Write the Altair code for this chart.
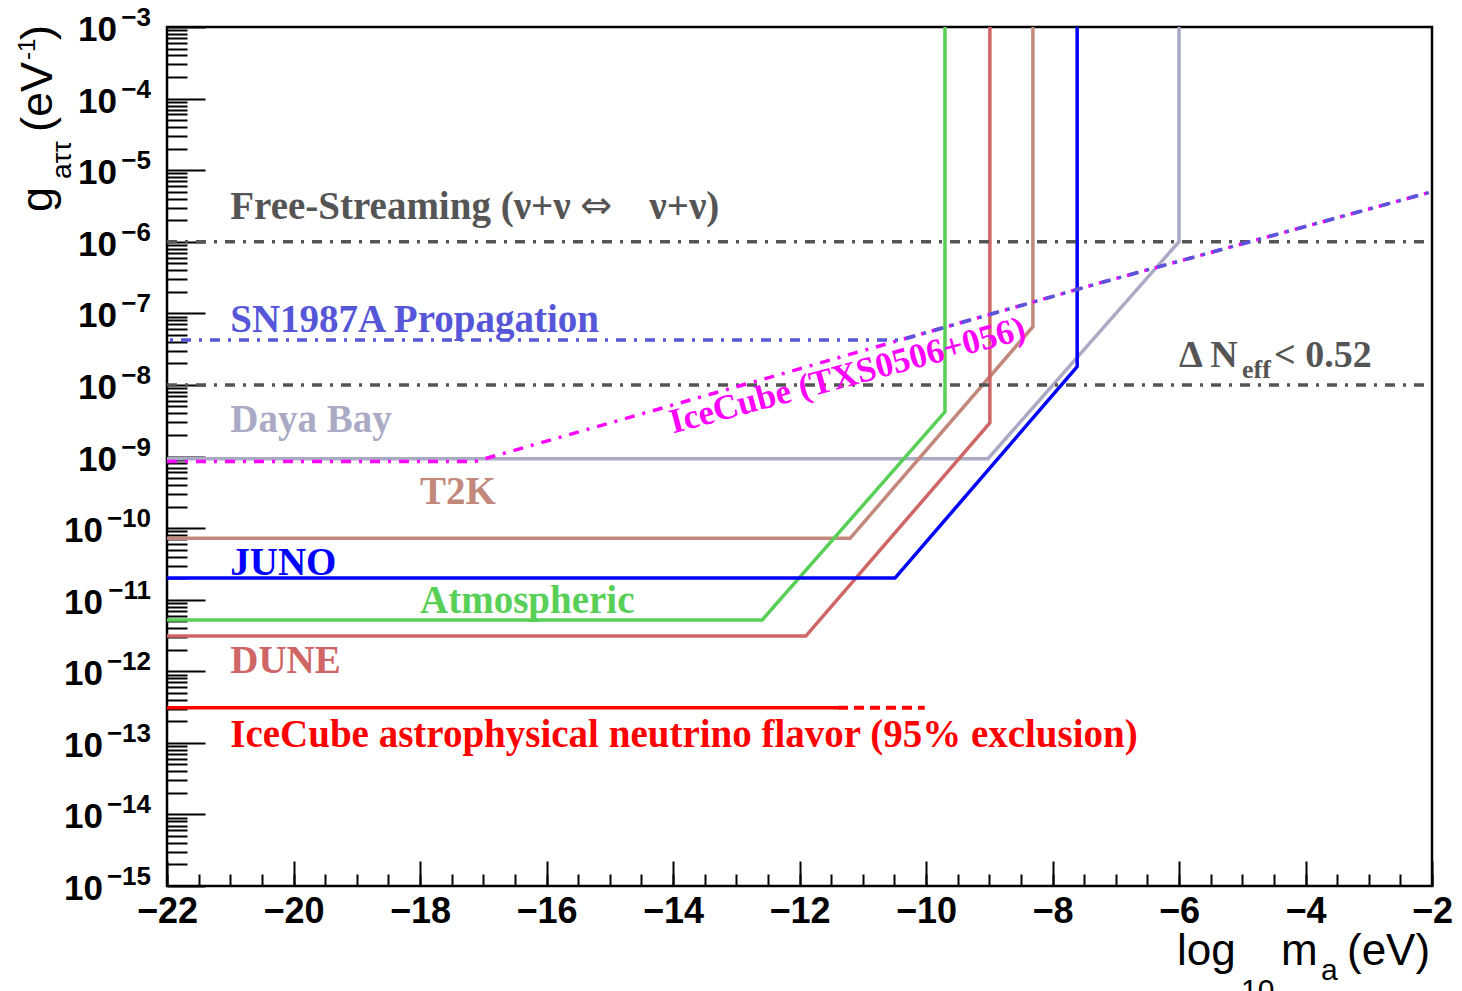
import altair as alt
import pandas as pd

# ---------------- data ----------------
# x = log10(m_a / eV), g = g_a tau tau in eV^-1
dune_x = [-22.0, -11.90, -8.99, -8.99]
dune_g = [3.1e-12, 3.1e-12, 2.95e-9, 1e-3]
atm_x = [-22.0, -12.59, -9.70, -9.70]
atm_g = [5.2e-12, 5.2e-12, 4.2e-9, 1e-3]
t2k_x = [-22.0, -11.20, -8.31, -8.31]
t2k_g = [7.2e-11, 7.2e-11, 6.5e-8, 1e-3]
juno_x = [-22.0, -10.49, -7.61, -7.61]
juno_g = [2.0e-11, 2.0e-11, 1.8e-8, 1e-3]
daya_x = [-22.0, -9.02, -6.0, -6.0]
daya_g = [9.3e-10, 9.3e-10, 1.0e-6, 1e-3]
flavor_x = [-22.0, -11.39]
flavor_g = [3.1e-13, 3.1e-13]
flavor_ext_x = [-11.39, -10.02]
flavor_ext_g = [3.1e-13, 3.1e-13]
txs_x = [-22.0, -17.13, -7.25, -2.0]
txs_g = [8.5e-10, 8.5e-10, 2.66e-7, 5.0e-6]
sn_x = [-22.0, -10.40, -7.25, -2.0]
sn_g = [4.25e-8, 4.25e-8, 2.66e-7, 5.0e-6]
free_x = [-22.0, -2.0]
free_g = [1e-6, 1e-6]
neff_x = [-22.0, -2.0]
neff_g = [1e-8, 1e-8]

label_text = ["SN1987A Propagation", "Daya Bay", "T2K", "JUNO", "Atmospheric", "DUNE",
              "IceCube astrophysical neutrino flavor (95% exclusion)"]
label_series = ["SN1987A", "Daya Bay", "T2K", "JUNO", "Atmospheric", "DUNE", "IceCube flavor"]
label_x = [-21.0, -21.0, -18.0, -21.0, -18.0, -21.0, -21.0]
label_g = [5.5e-8, 2.2e-9, 2.2e-10, 2.2e-11, 6.6e-12, 9.5e-13, 8.7e-14]

free_label_x = -21.0
free_label_g = 2.1e-6
txs_label_x = -14.0
txs_label_g = 2.1e-9
neff_label_x = -6.0
neff_label_g = 1.78e-8

x_major = [-22, -20, -18, -16, -14, -12, -10, -8, -6, -4, -2]
x_minor = [-22 + 0.5 * k for k in range(41)]
y_exps = list(range(-3, -16, -1))
y_major = [10.0 ** e for e in y_exps]
y_minor = [m * 10.0 ** e for e in range(-15, -3) for m in range(2, 10)]

# ---------------- styling ----------------
SERIES = ["Free-Streaming", "Neff", "SN1987A", "TXS", "Daya Bay", "T2K", "JUNO", "Atmospheric", "DUNE", "IceCube flavor"]
COLORS = ["#555555", "#555555", "#5656d8", "#ff00ff", "#abaac5", "#c1887b", "#0000ff", "#58d058", "#cf6565", "#ff0000"]
WIDTHS = [3.5, 3.5, 3.5, 3.5, 3, 3, 4, 3, 3, 4]
SERIF = "Liberation Serif"
SANS = "Liberation Sans"
W, H = 1265, 859
DASHDOT = [10, 8, 3, 8]

xs = alt.Scale(domain=[-22, -2], nice=False, zero=False)
ys = alt.Scale(type="log", domain=[1e-15, 1e-3], nice=False)
cs = alt.Scale(domain=SERIES, range=COLORS)
ws = alt.Scale(domain=SERIES, range=WIDTHS)


def long_df(pairs):
    rows = []
    for name, xv, gv in pairs:
        for i, (a, b) in enumerate(zip(xv, gv)):
            rows.append({"series": name, "x": a, "g": b, "i": i})
    return pd.DataFrame(rows)


solid_df = long_df([("Daya Bay", daya_x, daya_g), ("T2K", t2k_x, t2k_g), ("Atmospheric", atm_x, atm_g),
                    ("DUNE", dune_x, dune_g), ("JUNO", juno_x, juno_g), ("IceCube flavor", flavor_x, flavor_g)])
dd_df = long_df([("Free-Streaming", free_x, free_g), ("Neff", neff_x, neff_g), ("TXS", txs_x, txs_g)])
sn_df = long_df([("SN1987A", sn_x, sn_g)])
ext_df = long_df([("IceCube flavor", flavor_ext_x, flavor_ext_g)])
lab_df = pd.DataFrame({"text": label_text, "series": label_series, "x": label_x, "g": label_g})
ytick_df = pd.DataFrame({"v": y_major, "sup": ["\u2212" + str(-e) for e in y_exps],
                         "nd": [len(str(-e)) for e in y_exps]})
one = pd.DataFrame({"k": [0]})

tick_common = dict(labels=False, domain=False, grid=False, title=None, tickColor="black", tickWidth=2)
ax_x_major = alt.Axis(orient="top", offset=-H, values=x_major, tickSize=25, **tick_common)
ax_x_minor = alt.Axis(orient="top", offset=-H, values=x_minor, tickSize=12, **tick_common)
ax_y_major = alt.Axis(orient="right", offset=-W, values=y_major, tickSize=38, **tick_common)
ax_y_minor = alt.Axis(orient="right", offset=-W, values=y_minor, tickSize=20, **tick_common)
ax_x_lab = alt.Axis(orient="bottom", values=x_major, ticks=False, tickSize=0, domain=False, grid=False,
                    title=None, labelFont=SANS, labelFontWeight="bold", labelFontSize=36, labelColor="black",
                    labelPadding=8, format="d", labelFlush=False, labelOverlap=False, labelBound=False)

layers = []

# solid constraint lines (carry the major tick axes)
layers.append(alt.Chart(solid_df).mark_line(clip=True, strokeJoin="miter").encode(
    x=alt.X("x:Q", scale=xs, axis=ax_x_major),
    y=alt.Y("g:Q", scale=ys, axis=ax_y_major),
    color=alt.Color("series:N", scale=cs, legend=None),
    strokeWidth=alt.StrokeWidth("series:N", scale=ws, legend=None),
    detail="series:N",
    order="i:Q"))

# dash-dot lines (carry the minor tick axes)
layers.append(alt.Chart(dd_df).mark_line(clip=True, strokeDash=DASHDOT, strokeWidth=3.5).encode(
    x=alt.X("x:Q", scale=xs, axis=ax_x_minor),
    y=alt.Y("g:Q", scale=ys, axis=ax_y_minor),
    color=alt.Color("series:N", scale=cs, legend=None),
    detail="series:N",
    order="i:Q"))

layers.append(alt.Chart(sn_df).mark_line(clip=True, strokeDash=DASHDOT, strokeDashOffset=15, strokeWidth=3.5).encode(
    x=alt.X("x:Q", scale=xs, axis=None),
    y=alt.Y("g:Q", scale=ys, axis=None),
    color=alt.Color("series:N", scale=cs, legend=None),
    order="i:Q"))

# dashed extension of IceCube flavor (carries the x labels axis)
layers.append(alt.Chart(ext_df).mark_line(clip=True, strokeDash=[10, 6], strokeWidth=4).encode(
    x=alt.X("x:Q", scale=xs, axis=ax_x_lab),
    y=alt.Y("g:Q", scale=ys, axis=None),
    color=alt.Color("series:N", scale=cs, legend=None),
    order="i:Q"))

# in-plot labels
layers.append(alt.Chart(lab_df).mark_text(align="left", baseline="alphabetic", font=SERIF, fontWeight="bold",
                                          fontSize=39).encode(
    x=alt.X("x:Q", scale=xs, axis=None),
    y=alt.Y("g:Q", scale=ys, axis=None),
    text="text:N",
    color=alt.Color("series:N", scale=cs, legend=None)))


def datum_text(s, xv, gv, size, color, dx=0, dy=0, angle=0, font=SERIF, weight="bold"):
    return alt.Chart(one).mark_text(text=s, align="left", baseline="alphabetic", font=font, fontWeight=weight,
                                    fontSize=size, color=color, dx=dx, dy=dy, angle=angle).encode(
        x=alt.XDatum(xv, type="quantitative", scale=xs, axis=None),
        y=alt.YDatum(gv, type="quantitative", scale=ys, axis=None))


layers.append(datum_text("Free-Streaming (\u03bd+\u03bd", free_label_x, free_label_g, 39, "#555555"))
layers.append(datum_text("\u21d4", free_label_x, free_label_g, 38, "#555555", dx=350, dy=-1,
                         font="DejaVu Sans", weight="normal"))
layers.append(datum_text("\u03bd+\u03bd)", free_label_x, free_label_g, 39, "#555555", dx=419))
layers.append(datum_text("IceCube (TXS0506+056)", txs_label_x, txs_label_g, 35, "#ff00ff", angle=345))
layers.append(datum_text("\u0394  N", neff_label_x, neff_label_g, 38, "#555555"))
layers.append(datum_text("eff", neff_label_x, neff_label_g, 26, "#555555", dx=63, dy=11))
layers.append(datum_text("< 0.52", neff_label_x, neff_label_g, 38, "#555555", dx=95))

# y tick labels: 10 with superscript exponent
for nd, dxv in [(1, -50), (2, -64)]:
    layers.append(alt.Chart(ytick_df).transform_filter(f"datum.nd == {nd}").mark_text(
        text="10", align="right", baseline="alphabetic", font=SANS, fontWeight="bold", fontSize=35,
        color="black", dx=dxv, dy=14).encode(
        x=alt.XDatum(-22, type="quantitative", scale=xs, axis=None),
        y=alt.Y("v:Q", scale=ys, axis=None)))
layers.append(alt.Chart(ytick_df).mark_text(
    align="right", baseline="alphabetic", font=SANS, fontWeight="bold", fontSize=26,
    color="black", dx=-16, dy=-1).encode(
    x=alt.XDatum(-22, type="quantitative", scale=xs, axis=None),
    y=alt.Y("v:Q", scale=ys, axis=None),
    text="sup:N"))


def px_text(s, px, py, size, angle=0):
    return alt.Chart(one).mark_text(text=s, align="left", baseline="alphabetic", font=SANS, fontSize=size,
                                    color="black", angle=angle).encode(x=alt.value(px), y=alt.value(py))


# x title: log_10 m_a (eV)
layers += [px_text("log", 1010, 938, 44), px_text("10", 1074, 973, 30), px_text("m", 1114, 938, 44),
           px_text("a", 1154, 953, 30), px_text("(eV)", 1180, 938, 44)]
# y title: g_a tau tau (eV^-1), rotated
layers += [px_text("g", -115, 185, 45, 270), px_text("a\u03c4\u03c4", -96, 152, 28, 270),
           px_text("(eV", -115, 105, 45, 270), px_text("-1", -132, 33, 24, 270),
           px_text(")", -115, 13, 45, 270)]

chart = alt.layer(*layers).resolve_axis(x="independent", y="independent").properties(
    width=W, height=H,
    autosize=alt.AutoSizeParams(type="none"),
    padding={"left": 167, "top": 27, "right": 30, "bottom": 105},
    background="white",
).configure_view(stroke="black", strokeWidth=2.5)

chart.save("out.html", embed_options={"renderer": "svg", "actions": False})
